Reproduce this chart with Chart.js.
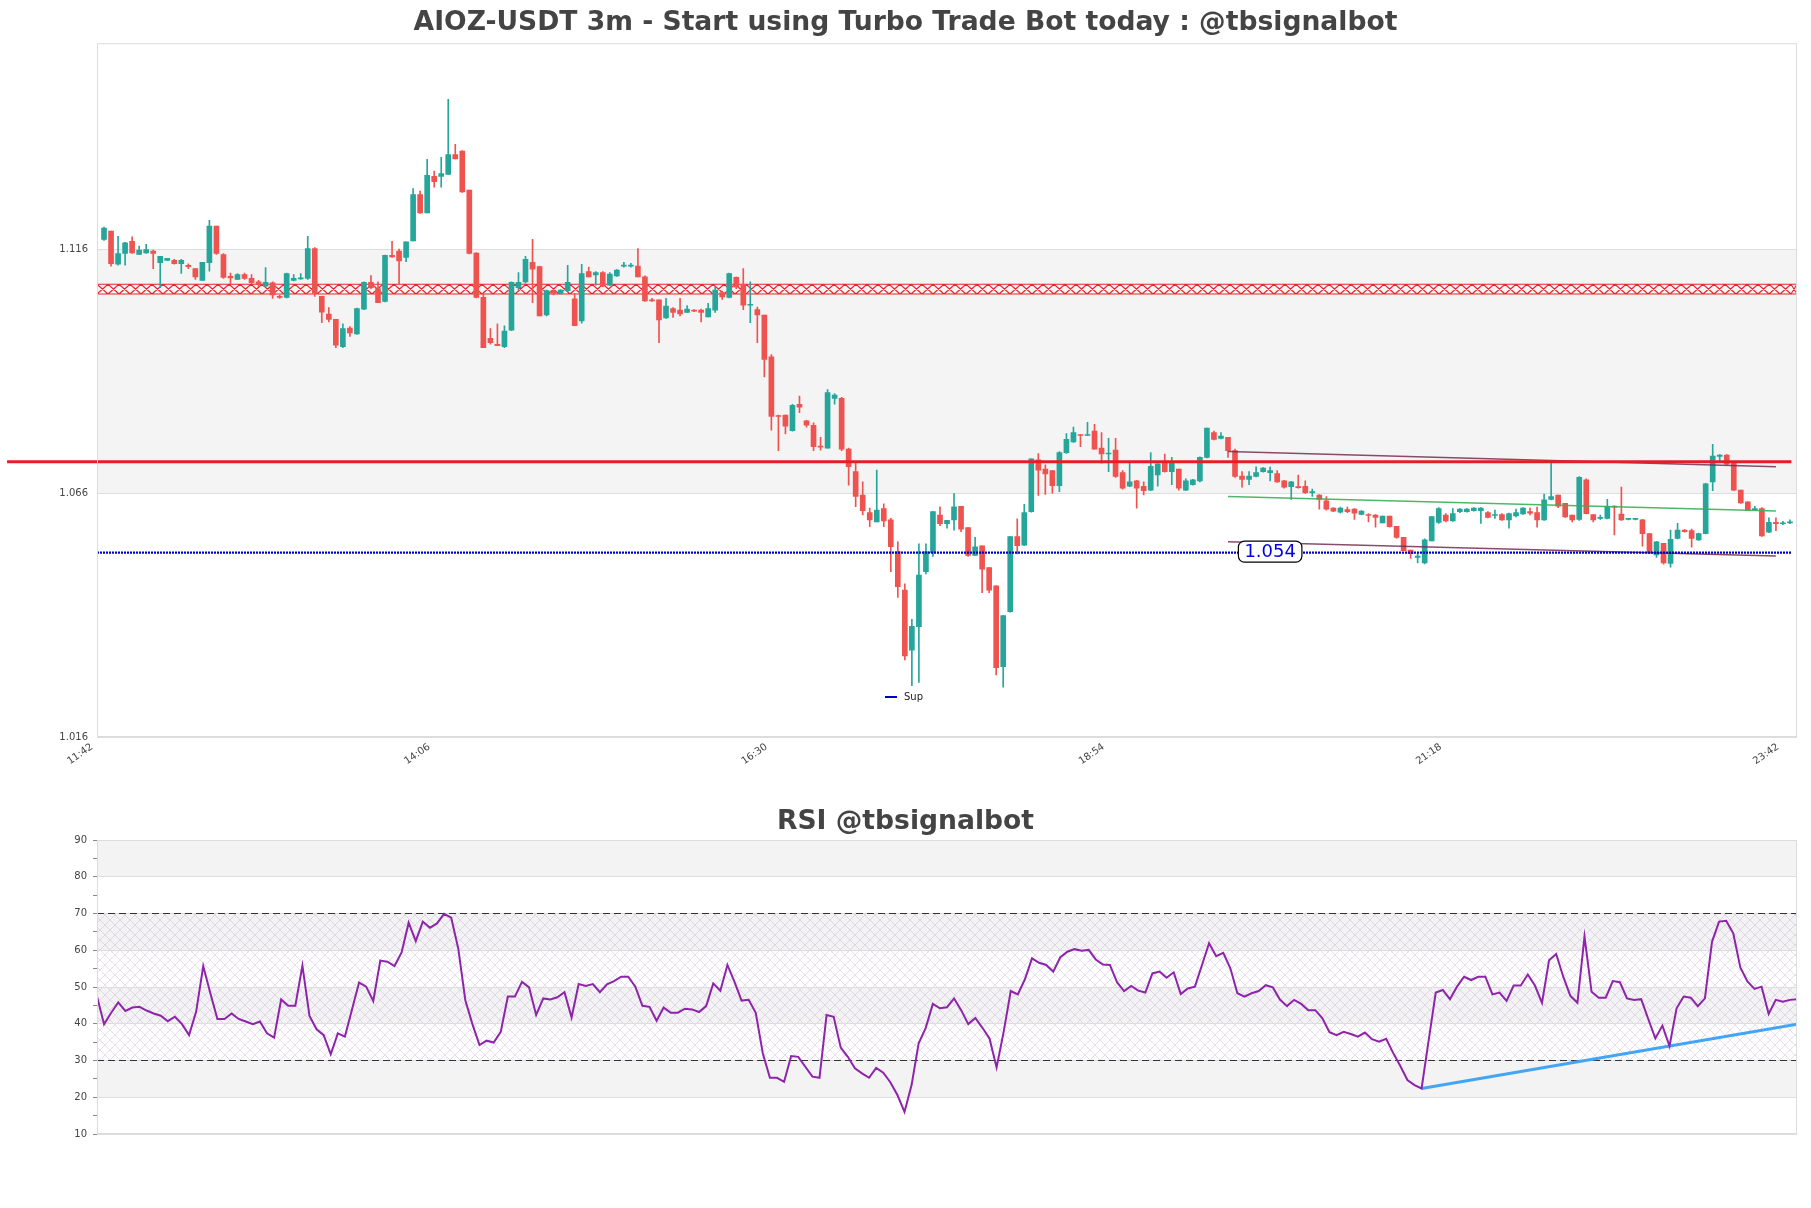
<!DOCTYPE html>
<html>
<head>
<meta charset="utf-8">
<script src="https://cdn.jsdelivr.net/npm/chart.js@4.4.1/dist/chart.umd.min.js"></script>
<style>
  body { margin: 0; background: #fff; }
  #priceBox { position: absolute; left: 0; top: 0; width: 1811px; height: 790px; }
  #rsiBox { position: absolute; left: 0; top: 790px; width: 1811px; height: 418px; }
</style>
</head>
<body>
<div id="priceBox"><canvas id="priceChart"></canvas></div>
<div id="rsiBox"><canvas id="rsiChart"></canvas></div>
<script>
// ---- data (3m candles, 11:45 .. 23:45) ----
const timeLabels = ['11:42', '14:06', '16:30', '18:54', '21:18', '23:42'];
const timeTickIdx = [-1, 47, 95, 143, 191, 239];
const priceTicks = [1.016, 1.066, 1.116];

const open = [
  1.1180, 1.1197, 1.1129, 1.1151, 1.1176, 1.1149, 1.1152, 1.1156, 1.1132, 1.1137,
  1.1137, 1.1130, 1.1127, 1.1120, 1.1096, 1.1132, 1.1207, 1.1149, 1.1104, 1.1098,
  1.1108, 1.1100, 1.1093, 1.1084, 1.1091, 1.1063, 1.1061, 1.1096, 1.1099, 1.1100,
  1.1161, 1.1063, 1.1027, 1.1016, 1.0960, 1.0998, 1.0986, 1.1037, 1.1092, 1.1079,
  1.1053, 1.1147, 1.1156, 1.1143, 1.1177, 1.1272, 1.1234, 1.1309, 1.1309, 1.1313,
  1.1354, 1.1361, 1.1281, 1.1152, 1.1061, 1.0977, 1.0965, 1.0960, 1.0994, 1.1081,
  1.1093, 1.1133, 1.1124, 1.1025, 1.1074, 1.1069, 1.1075, 1.1058, 1.1013, 1.1114,
  1.1107, 1.1112, 1.1086, 1.1105, 1.1125, 1.1125, 1.1125, 1.1103, 1.1056, 1.1056,
  1.1019, 1.1038, 1.1035, 1.1030, 1.1035, 1.1035, 1.1021, 1.1035, 1.1071, 1.1061,
  1.1102, 1.1088, 1.1045, 1.1036, 1.1025, 1.0939, 1.0819, 1.0820, 1.0788, 1.0842,
  1.0808, 1.0799, 1.0756, 1.0752, 1.0854, 1.0854, 1.0750, 1.0704, 1.0656, 1.0620,
  1.0601, 1.0628, 1.0605, 1.0540, 1.0461, 1.0338, 1.0386, 1.0499, 1.0538, 1.0615,
  1.0597, 1.0605, 1.0633, 1.0589, 1.0532, 1.0552, 1.0507, 1.0470, 1.0304, 1.0417,
  1.0571, 1.0553, 1.0622, 1.0728, 1.0709, 1.0706, 1.0675, 1.0743, 1.0765, 1.0780,
  1.0778, 1.0787, 1.0752, 1.0740, 1.0748, 1.0702, 1.0674, 1.0685, 1.0674, 1.0666,
  1.0697, 1.0721, 1.0704, 1.0709, 1.0666, 1.0677, 1.0685, 1.0733, 1.0784, 1.0772,
  1.0774, 1.0747, 1.0695, 1.0688, 1.0694, 1.0704, 1.0702, 1.0700, 1.0685, 1.0673,
  1.0673, 1.0674, 1.0661, 1.0656, 1.0644, 1.0629, 1.0621, 1.0626, 1.0627, 1.0616,
  1.0616, 1.0615, 1.0599, 1.0613, 1.0592, 1.0569, 1.0543, 1.0528, 1.0517, 1.0562,
  1.0600, 1.0615, 1.0603, 1.0622, 1.0622, 1.0624, 1.0624, 1.0620, 1.0614, 1.0616,
  1.0605, 1.0613, 1.0617, 1.0622, 1.0620, 1.0605, 1.0647, 1.0656, 1.0639, 1.0615,
  1.0606, 1.0687, 1.0616, 1.0608, 1.0608, 1.0633, 1.0617, 1.0606, 1.0606, 1.0605,
  1.0577, 1.0533, 1.0557, 1.0516, 1.0567, 1.0584, 1.0583, 1.0564, 1.0577, 1.0683,
  1.0735, 1.0738, 1.0721, 1.0666, 1.0642, 1.0626, 1.0628, 1.0580, 1.0600, 1.0597,
  1.0599
];
const high = [
  1.1205, 1.1197, 1.1186, 1.1174, 1.1185, 1.1166, 1.1170, 1.1158, 1.1145, 1.1141,
  1.1139, 1.1139, 1.1130, 1.1120, 1.1133, 1.1219, 1.1207, 1.1151, 1.1111, 1.1110,
  1.1111, 1.1108, 1.1096, 1.1122, 1.1093, 1.1066, 1.1111, 1.1108, 1.1110, 1.1186,
  1.1163, 1.1063, 1.1040, 1.1016, 1.1007, 1.1001, 1.1039, 1.1093, 1.1106, 1.1093,
  1.1148, 1.1176, 1.1160, 1.1175, 1.1284, 1.1279, 1.1344, 1.1320, 1.1348, 1.1467,
  1.1375, 1.1362, 1.1281, 1.1153, 1.1069, 1.0997, 1.1007, 1.1003, 1.1093, 1.1112,
  1.1145, 1.1180, 1.1125, 1.1076, 1.1076, 1.1077, 1.1127, 1.1069, 1.1129, 1.1123,
  1.1114, 1.1114, 1.1112, 1.1118, 1.1133, 1.1131, 1.1161, 1.1105, 1.1059, 1.1056,
  1.1059, 1.1040, 1.1059, 1.1044, 1.1036, 1.1037, 1.1049, 1.1082, 1.1074, 1.1111,
  1.1103, 1.1120, 1.1093, 1.1041, 1.1025, 1.0944, 1.0820, 1.0820, 1.0842, 1.0859,
  1.0809, 1.0804, 1.0774, 1.0872, 1.0864, 1.0856, 1.0752, 1.0721, 1.0683, 1.0629,
  1.0707, 1.0638, 1.0608, 1.0560, 1.0474, 1.0401, 1.0556, 1.0556, 1.0622, 1.0632,
  1.0604, 1.0659, 1.0633, 1.0589, 1.0569, 1.0552, 1.0507, 1.0470, 1.0409, 1.0571,
  1.0607, 1.0637, 1.0730, 1.0741, 1.0718, 1.0706, 1.0745, 1.0782, 1.0795, 1.0780,
  1.0805, 1.0801, 1.0784, 1.0772, 1.0772, 1.0706, 1.0722, 1.0686, 1.0683, 1.0743,
  1.0720, 1.0740, 1.0733, 1.0709, 1.0689, 1.0688, 1.0734, 1.0793, 1.0787, 1.0784,
  1.0774, 1.0750, 1.0704, 1.0704, 1.0714, 1.0712, 1.0713, 1.0706, 1.0686, 1.0684,
  1.0697, 1.0685, 1.0668, 1.0657, 1.0653, 1.0630, 1.0631, 1.0631, 1.0628, 1.0624,
  1.0618, 1.0616, 1.0613, 1.0613, 1.0592, 1.0569, 1.0543, 1.0536, 1.0566, 1.0612,
  1.0630, 1.0618, 1.0628, 1.0628, 1.0628, 1.0630, 1.0630, 1.0622, 1.0625, 1.0618,
  1.0619, 1.0627, 1.0630, 1.0629, 1.0631, 1.0658, 1.0721, 1.0656, 1.0639, 1.0615,
  1.0694, 1.0689, 1.0616, 1.0615, 1.0647, 1.0634, 1.0672, 1.0608, 1.0608, 1.0606,
  1.0577, 1.0561, 1.0557, 1.0584, 1.0598, 1.0585, 1.0586, 1.0578, 1.0680, 1.0760,
  1.0739, 1.0739, 1.0721, 1.0666, 1.0642, 1.0633, 1.0630, 1.0609, 1.0609, 1.0602,
  1.0605
];
const low = [
  1.1178, 1.1125, 1.1127, 1.1127, 1.1151, 1.1149, 1.1151, 1.1120, 1.1081, 1.1137,
  1.1129, 1.1110, 1.1120, 1.1098, 1.1096, 1.1115, 1.1149, 1.1100, 1.1089, 1.1098,
  1.1098, 1.1089, 1.1083, 1.1084, 1.1059, 1.1059, 1.1060, 1.1095, 1.1098, 1.1098,
  1.1063, 1.1009, 1.1011, 1.0958, 1.0958, 1.0981, 1.0985, 1.1036, 1.1079, 1.1050,
  1.1052, 1.1143, 1.1088, 1.1134, 1.1177, 1.1233, 1.1234, 1.1287, 1.1287, 1.1313,
  1.1345, 1.1276, 1.1150, 1.1060, 1.0958, 1.0965, 1.0962, 1.0958, 1.0993, 1.1077,
  1.1090, 1.1050, 1.1023, 1.1023, 1.1066, 1.1068, 1.1073, 1.1003, 1.1008, 1.1103,
  1.1086, 1.1083, 1.1085, 1.1104, 1.1123, 1.1123, 1.1103, 1.1053, 1.1053, 1.0968,
  1.1018, 1.1020, 1.1023, 1.1030, 1.1032, 1.1011, 1.1021, 1.1030, 1.1057, 1.1060,
  1.1079, 1.1036, 1.1009, 1.0968, 1.0898, 1.0789, 1.0747, 1.0781, 1.0787, 1.0825,
  1.0795, 1.0747, 1.0748, 1.0752, 1.0842, 1.0747, 1.0676, 1.0632, 1.0615, 1.0591,
  1.0601, 1.0591, 1.0499, 1.0446, 1.0318, 1.0265, 1.0272, 1.0494, 1.0530, 1.0593,
  1.0588, 1.0584, 1.0581, 1.0530, 1.0532, 1.0456, 1.0456, 1.0287, 1.0262, 1.0416,
  1.0535, 1.0552, 1.0621, 1.0655, 1.0657, 1.0660, 1.0663, 1.0741, 1.0764, 1.0755,
  1.0778, 1.0750, 1.0721, 1.0704, 1.0692, 1.0668, 1.0673, 1.0629, 1.0656, 1.0665,
  1.0674, 1.0703, 1.0677, 1.0666, 1.0665, 1.0676, 1.0683, 1.0732, 1.0769, 1.0771,
  1.0733, 1.0692, 1.0672, 1.0677, 1.0693, 1.0703, 1.0685, 1.0682, 1.0670, 1.0647,
  1.0670, 1.0659, 1.0653, 1.0627, 1.0625, 1.0622, 1.0619, 1.0620, 1.0606, 1.0615,
  1.0601, 1.0590, 1.0599, 1.0590, 1.0567, 1.0542, 1.0526, 1.0517, 1.0515, 1.0562,
  1.0598, 1.0601, 1.0602, 1.0620, 1.0621, 1.0623, 1.0598, 1.0609, 1.0608, 1.0604,
  1.0588, 1.0611, 1.0616, 1.0615, 1.0590, 1.0604, 1.0646, 1.0630, 1.0610, 1.0601,
  1.0604, 1.0617, 1.0601, 1.0606, 1.0607, 1.0574, 1.0604, 1.0605, 1.0605, 1.0551,
  1.0536, 1.0528, 1.0514, 1.0508, 1.0566, 1.0580, 1.0549, 1.0563, 1.0576, 1.0665,
  1.0724, 1.0718, 1.0665, 1.0639, 1.0624, 1.0625, 1.0571, 1.0579, 1.0583, 1.0595,
  1.0597
];
const close = [
  1.1203, 1.1130, 1.1151, 1.1173, 1.1152, 1.1158, 1.1159, 1.1151, 1.1145, 1.1141,
  1.1130, 1.1137, 1.1124, 1.1103, 1.1133, 1.1207, 1.1151, 1.1102, 1.1101, 1.1108,
  1.1100, 1.1091, 1.1087, 1.1092, 1.1066, 1.1061, 1.1110, 1.1100, 1.1100, 1.1161,
  1.1069, 1.1031, 1.1016, 1.0963, 1.0997, 1.0988, 1.1038, 1.1092, 1.1081, 1.1050,
  1.1147, 1.1144, 1.1136, 1.1175, 1.1272, 1.1234, 1.1311, 1.1298, 1.1315, 1.1354,
  1.1345, 1.1277, 1.1151, 1.1061, 1.0958, 1.0968, 1.0962, 1.0992, 1.1092, 1.1092,
  1.1139, 1.1119, 1.1023, 1.1075, 1.1069, 1.1076, 1.1092, 1.1003, 1.1110, 1.1103,
  1.1112, 1.1084, 1.1109, 1.1117, 1.1127, 1.1127, 1.1103, 1.1054, 1.1054, 1.1015,
  1.1043, 1.1030, 1.1027, 1.1037, 1.1033, 1.1030, 1.1038, 1.1076, 1.1062, 1.1110,
  1.1082, 1.1045, 1.1047, 1.1025, 1.0934, 1.0817, 1.0817, 1.0797, 1.0840, 1.0836,
  1.0799, 1.0755, 1.0754, 1.0866, 1.0861, 1.0750, 1.0714, 1.0653, 1.0624, 1.0605,
  1.0625, 1.0603, 1.0550, 1.0468, 1.0326, 1.0387, 1.0492, 1.0540, 1.0622, 1.0597,
  1.0604, 1.0632, 1.0586, 1.0532, 1.0550, 1.0504, 1.0461, 1.0302, 1.0409, 1.0571,
  1.0552, 1.0620, 1.0730, 1.0707, 1.0699, 1.0675, 1.0743, 1.0770, 1.0784, 1.0778,
  1.0780, 1.0750, 1.0740, 1.0742, 1.0694, 1.0670, 1.0683, 1.0670, 1.0665, 1.0715,
  1.0720, 1.0704, 1.0721, 1.0670, 1.0685, 1.0687, 1.0733, 1.0793, 1.0770, 1.0777,
  1.0747, 1.0694, 1.0688, 1.0695, 1.0702, 1.0711, 1.0706, 1.0683, 1.0672, 1.0683,
  1.0671, 1.0661, 1.0663, 1.0647, 1.0627, 1.0623, 1.0629, 1.0622, 1.0619, 1.0623,
  1.0614, 1.0610, 1.0613, 1.0591, 1.0569, 1.0542, 1.0536, 1.0531, 1.0564, 1.0612,
  1.0628, 1.0603, 1.0618, 1.0627, 1.0627, 1.0629, 1.0629, 1.0610, 1.0616, 1.0605,
  1.0618, 1.0620, 1.0629, 1.0619, 1.0605, 1.0646, 1.0653, 1.0633, 1.0611, 1.0605,
  1.0692, 1.0618, 1.0605, 1.0610, 1.0633, 1.0631, 1.0605, 1.0607, 1.0607, 1.0577,
  1.0540, 1.0560, 1.0517, 1.0565, 1.0584, 1.0581, 1.0567, 1.0577, 1.0679, 1.0736,
  1.0738, 1.0719, 1.0666, 1.0640, 1.0625, 1.0628, 1.0572, 1.0600, 1.0597, 1.0599,
  1.0601
];
const rsi = [
  47.4, 39.9, 43.0, 45.8, 43.5, 44.4, 44.6, 43.6, 42.8, 42.2,
  40.7, 41.9, 39.9, 36.9, 43.3, 55.7, 48.3, 41.3, 41.3, 42.8,
  41.3, 40.6, 39.9, 40.6, 37.4, 36.2, 46.6, 44.9, 44.9, 55.8,
  42.1, 38.5, 36.9, 31.7, 37.4, 36.5, 43.9, 51.2, 50.1, 46.2,
  57.2, 56.9, 55.7, 59.4, 67.5, 62.5, 67.8, 66.1, 67.3, 69.9,
  68.9, 60.5, 46.4, 39.9, 34.2, 35.4, 34.9, 37.8, 47.4, 47.4,
  51.4, 49.9, 42.4, 46.9, 46.6, 47.2, 48.6, 41.7, 50.8, 50.3,
  50.8, 48.6, 50.7, 51.6, 52.8, 52.8, 50.1, 44.9, 44.6, 40.8,
  44.4, 43.0, 43.0, 44.1, 43.9, 43.2, 44.8, 51.0, 49.0, 56.0,
  51.4, 46.3, 46.5, 43.0, 31.9, 25.3, 25.3, 24.2, 31.2, 31.0,
  28.3, 25.6, 25.3, 42.4, 41.9, 33.5, 31.0, 27.9, 26.5, 25.3,
  28.0, 26.7, 24.1, 20.6, 16.0, 23.3, 34.7, 38.9, 45.4, 44.2,
  44.5, 46.9, 43.7, 39.9, 41.6, 38.9, 36.0, 28.1, 37.8, 48.9,
  48.0, 52.1, 57.8, 56.6, 56.0, 54.2, 58.1, 59.6, 60.3, 59.9,
  60.1, 57.5, 56.1, 56.0, 51.3, 48.9, 50.3, 49.0, 48.5, 53.7,
  54.2, 52.5, 54.0, 48.1, 49.6, 50.1, 56.0, 61.9, 58.4, 59.3,
  55.1, 48.3, 47.4, 48.3, 48.9, 50.5, 49.9, 46.6, 44.8, 46.5,
  45.4, 43.7, 43.7, 41.5, 37.7, 36.9, 37.8, 37.2, 36.5, 37.6,
  35.8, 35.1, 35.9, 32.0, 28.5, 24.7, 23.3, 22.4, 35.5, 48.5,
  49.2, 46.7, 50.1, 52.8, 51.9, 52.8, 52.8, 48.0, 48.5, 46.2,
  50.4, 50.4, 53.4, 50.4, 45.7, 57.3, 59.0, 52.8, 47.6, 45.7,
  63.7, 48.7, 47.1, 47.1, 51.6, 51.3, 46.9, 46.5, 46.7, 41.3,
  36.0, 39.5, 33.9, 44.2, 47.4, 47.1, 44.8, 46.9, 62.3, 67.8,
  68.0, 64.6, 55.3, 51.5, 49.5, 50.1, 42.7, 46.5, 46.0, 46.5,
  46.7
];

// levels and trendlines: [candle index, price]
const resistanceLevel = 1.0724;
const resistanceSpan = [-13.8, 240.2];
const supLevel = 1.0538;
const supLabelAt = 166;
const zoneLow = 1.1068, zoneHigh = 1.1088;
const upperTrend = [[160, 1.0745], [238, 1.0714]];
const midTrend = [[160, 1.0653], [238, 1.0623]];
const lowerTrend = [[160, 1.0560], [238, 1.0531]];
const rsiTrend = [[187, 22.4], [240, 39.9]];
const rsiBands = [[80, 90], [60, 70], [40, 50], [20, 30]];
const rsiLevels = [70, 30];

Chart.defaults.font.family = '"DejaVu Sans", sans-serif';
Chart.defaults.color = '#444';

const GREEN = '#26a69a', RED = '#ef5350';
const idx = open.map((_, i) => i);
const candleColors = idx.map(i => close[i] >= open[i] ? GREEN : RED);
const pts = arr => arr.map(p => ({ x: p[0], y: p[1] }));

function frame(chart) {
  const { ctx, chartArea: a } = chart;
  ctx.save();
  ctx.strokeStyle = '#dcdcdc';
  ctx.lineWidth = 1;
  ctx.strokeRect(a.left + 0.5, a.top + 0.5, a.width - 1, a.height - 1);
  ctx.restore();
}

const pricePlugin = {
  id: 'pricePlugin',
  beforeDraw(chart) {
    const { ctx, chartArea: a, scales: { y } } = chart;
    const t = y.getPixelForValue(priceTicks[2]), b = y.getPixelForValue(priceTicks[1]);
    ctx.save();
    ctx.fillStyle = '#f4f4f4';
    ctx.fillRect(a.left, t, a.width, b - t);
    ctx.restore();
  },
  beforeDatasetsDraw(chart) {
    // red cross-hatched zone
    const { ctx, chartArea: a, scales: { y } } = chart;
    const t = y.getPixelForValue(zoneHigh), b = y.getPixelForValue(zoneLow);
    const w = 11;
    ctx.save();
    ctx.strokeStyle = '#e8262b';
    ctx.lineWidth = 1.1;
    ctx.beginPath();
    ctx.moveTo(a.left, t); ctx.lineTo(a.right, t);
    ctx.moveTo(a.left, b); ctx.lineTo(a.right, b);
    for (let x = a.left; x < a.right - 1; x += w) {
      const x2 = Math.min(x + w, a.right);
      ctx.moveTo(x, t); ctx.lineTo(x2, b);
      ctx.moveTo(x2, t); ctx.lineTo(x, b);
    }
    ctx.stroke();
    ctx.restore();
  },
  afterDatasetsDraw(chart) {
    const { ctx, chartArea: a, scales: { x, y } } = chart;
    frame(chart);
    // support value label
    const cx = x.getPixelForValue(supLabelAt), cy = y.getPixelForValue(supLevel) - 1;
    const txt = supLevel.toFixed(3);
    ctx.save();
    ctx.font = '18px "DejaVu Sans"';
    const w = ctx.measureText(txt).width + 12, h = 21;
    ctx.beginPath();
    ctx.roundRect(cx - w / 2, cy - h / 2, w, h, 6);
    ctx.fillStyle = '#fff';
    ctx.fill();
    ctx.strokeStyle = '#000';
    ctx.lineWidth = 1.2;
    ctx.stroke();
    ctx.fillStyle = '#0000e0';
    ctx.textAlign = 'center';
    ctx.textBaseline = 'middle';
    ctx.fillText(txt, cx, cy + 1);
    // legend
    const lx = a.left + 788, ly = a.bottom - 40;
    ctx.strokeStyle = '#0000cc';
    ctx.lineWidth = 2;
    ctx.beginPath();
    ctx.moveTo(lx, ly); ctx.lineTo(lx + 12, ly);
    ctx.stroke();
    ctx.font = '10px "DejaVu Sans"';
    ctx.fillStyle = '#222';
    ctx.textAlign = 'left';
    ctx.fillText('Sup', lx + 19, ly);
    ctx.restore();
  }
};

function makeHatch() {
  const c = document.createElement('canvas');
  c.width = 10; c.height = 10;
  const g = c.getContext('2d');
  g.strokeStyle = 'rgba(185,160,205,0.36)';
  g.lineWidth = 1;
  g.beginPath();
  g.moveTo(0, 0); g.lineTo(10, 10);
  g.moveTo(10, 0); g.lineTo(0, 10);
  g.stroke();
  return c;
}

const rsiPlugin = {
  id: 'rsiPlugin',
  beforeDraw(chart) {
    const { ctx, chartArea: a, scales: { y } } = chart;
    ctx.save();
    ctx.fillStyle = '#f3f3f3';
    rsiBands.forEach(([lo, hi]) => {
      const t = y.getPixelForValue(hi), b = y.getPixelForValue(lo);
      ctx.fillRect(a.left, t, a.width, b - t);
    });
    const t = y.getPixelForValue(rsiLevels[0]), b = y.getPixelForValue(rsiLevels[1]);
    ctx.fillStyle = ctx.createPattern(makeHatch(), 'repeat');
    ctx.fillRect(a.left, t, a.width, b - t);
    ctx.restore();
  },
  afterDatasetsDraw(chart) {
    frame(chart);
  }
};

new Chart(document.getElementById('priceChart'), {
  type: 'bar',
  data: {
    datasets: [
      {
        type: 'line', label: 'resistance', order: 0, clip: false,
        data: resistanceSpan.map(v => ({ x: v, y: resistanceLevel })),
        borderColor: '#e31e24', borderWidth: 3, pointRadius: 0
      },
      {
        type: 'line', label: 'Sup', order: 0,
        data: [{ x: -1, y: supLevel }, { x: 240.2, y: supLevel }],
        borderColor: '#0000cc', borderWidth: 2.2, borderDash: [2, 1], pointRadius: 0
      },
      {
        type: 'line', label: 'upper', order: 0, data: pts(upperTrend),
        borderColor: 'rgba(115,45,80,0.85)', borderWidth: 1.5, pointRadius: 0
      },
      {
        type: 'line', label: 'mid', order: 0, data: pts(midTrend),
        borderColor: 'rgba(60,175,90,0.9)', borderWidth: 1.5, pointRadius: 0
      },
      {
        type: 'line', label: 'lower', order: 0, data: pts(lowerTrend),
        borderColor: 'rgba(115,45,80,0.85)', borderWidth: 1.5, pointRadius: 0
      },
      {
        label: 'body', order: 2, grouped: false,
        data: idx.map(i => ({ x: i, y: [open[i], close[i]] })),
        backgroundColor: candleColors, barThickness: 5, minBarLength: 1, borderWidth: 0
      },
      {
        label: 'wick', order: 3, grouped: false,
        data: idx.map(i => ({ x: i, y: [low[i], high[i]] })),
        backgroundColor: candleColors, barThickness: 1, borderWidth: 0
      }
    ]
  },
  options: {
    responsive: true,
    maintainAspectRatio: false,
    animation: false,
    layout: { padding: { left: 14, right: 14, top: 0, bottom: 0 } },
    plugins: {
      legend: { display: false },
      tooltip: { enabled: false },
      title: {
        display: true,
        text: 'AIOZ-USDT 3m - Start using Turbo Trade Bot today : @tbsignalbot',
        color: '#444',
        font: { size: 26.6, weight: 'bold', lineHeight: 1.2 },
        padding: { top: 7.5, bottom: 3.8 }
      }
    },
    scales: {
      x: {
        type: 'linear', min: -1, max: 241, offset: false,
        grid: { display: false, drawTicks: false },
        border: { display: false },
        afterBuildTicks: s => { s.ticks = timeTickIdx.map(v => ({ value: v })); },
        afterFit: s => { s.height = 53; },
        ticks: {
          autoSkip: false, maxRotation: 35, minRotation: 35, padding: 4, labelOffset: -5,
          color: '#444', font: { size: 10 },
          callback: v => timeLabels[timeTickIdx.indexOf(v)]
        }
      },
      y: {
        min: 1.016, max: 1.1582,
        afterBuildTicks: s => { s.ticks = priceTicks.map(v => ({ value: v })); },
        afterFit: s => { s.width = 83; },
        grid: { color: '#dddddd', drawTicks: false },
        border: { display: false },
        ticks: { padding: 9, color: '#444', font: { size: 10 }, callback: v => v.toFixed(3) }
      }
    }
  },
  plugins: [pricePlugin]
});

new Chart(document.getElementById('rsiChart'), {
  type: 'line',
  data: {
    datasets: [
      {
        label: 'RSI', data: rsi.map((v, i) => ({ x: i, y: v })),
        borderColor: '#8e24aa', borderWidth: 2, pointRadius: 0, tension: 0
      },
      {
        label: 'trend', data: pts(rsiTrend),
        borderColor: '#42a5f5', borderWidth: 3, pointRadius: 0
      },
      ...rsiLevels.map(v => ({
        label: 'level ' + v, data: [{ x: 0, y: v }, { x: 240, y: v }],
        borderColor: '#333', borderWidth: 1.2, borderDash: [7, 4], pointRadius: 0
      }))
    ]
  },
  options: {
    responsive: true,
    maintainAspectRatio: false,
    animation: false,
    layout: { padding: { left: 14, right: 14, top: 0, bottom: 74 } },
    plugins: {
      legend: { display: false },
      tooltip: { enabled: false },
      title: {
        display: true,
        text: 'RSI @tbsignalbot',
        color: '#444',
        font: { size: 26.6, weight: 'bold', lineHeight: 1.2 },
        padding: { top: 16.5, bottom: 1.6 }
      }
    },
    scales: {
      x: { type: 'linear', min: 0, max: 240, display: false },
      y: {
        min: 10, max: 90,
        afterFit: s => { s.width = 83; },
        border: { display: false },
        grid: {
          color: c => (c.tick && c.tick.value % 10 === 0) ? '#dddddd' : 'rgba(0,0,0,0)',
          tickColor: '#888', tickLength: 4
        },
        ticks: {
          stepSize: 5, autoSkip: false, padding: 6, color: '#444', font: { size: 10 },
          callback: v => v % 10 === 0 ? v : ''
        }
      }
    }
  },
  plugins: [rsiPlugin]
});
</script>
</body>
</html>
